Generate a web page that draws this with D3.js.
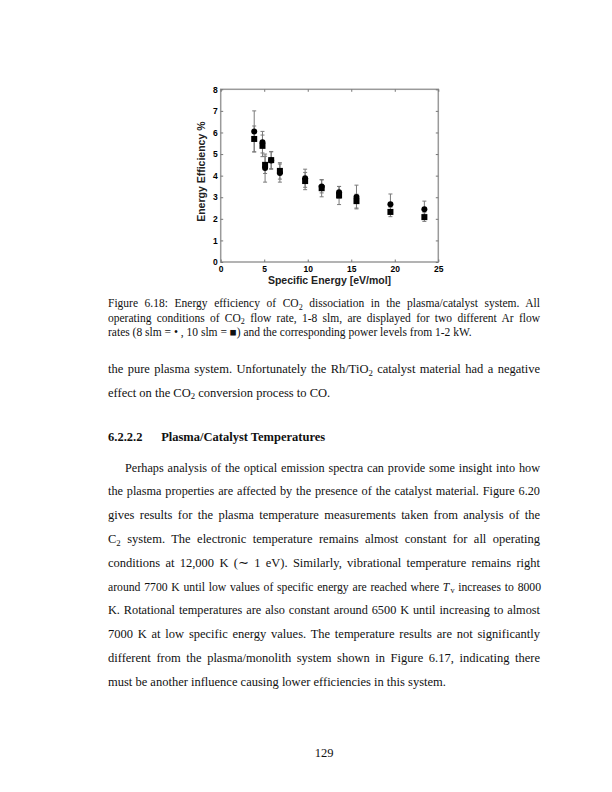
<!DOCTYPE html>
<html>
<head>
<meta charset="utf-8">
<script src="https://cdn.jsdelivr.net/npm/d3@7"></script>
<style>
  body { margin: 0; background: #fff; }
  svg { display: block; }
  .tick text { font-family: "Liberation Sans", Arial, sans-serif; font-weight: bold; font-size: 8.5px; fill: #000; }
  .page { font-family: "Liberation Serif", "Times New Roman", serif; fill: #111; }
</style>
</head>
<body>
<svg id="page" width="612" height="792"></svg>
<script>
// specific energy [eV/mol] for each operating condition
var specificEnergy = [3.85, 4.8, 5.1, 5.8, 6.8, 9.7, 11.6, 13.6, 15.6, 19.5, 23.4];
// 8 slm Ar (circles)
var eff8slm = [6.05, 5.55, 4.35, 4.7, 4.12, 3.88, 3.5, 3.23, 3.01, 2.68, 2.44];
var err8slm = [0.95, 0.5, 0.65, 0.4, 0.42, 0.42, 0.3, 0.27, 0.55, 0.47, 0.38];
// 10 slm Ar (squares)
var eff10slm = [5.7, 5.38, 4.5, 4.72, 4.22, 3.75, 3.42, 3.08, 2.82, 2.32, 2.08];
var err10slm = [0.6, 0.5, 0.4, 0.4, 0.38, 0.4, 0.4, 0.42, 0.32, 0.22, 0.2];
var xTicks = [0, 5, 10, 15, 20, 25];
var yTicks = [0, 1, 2, 3, 4, 5, 6, 7, 8];

var frameColor = "#9a9a9a";
var errColor = "#7a7a7a";

var svg = d3.select("#page");

var xScale = d3.scaleLinear().domain([0, 25]).range([220.7, 438.3]);
var yScale = d3.scaleLinear().domain([0, 8]).range([262, 89.3]);

var plot = svg.append("g");

// frame
plot.append("rect")
    .attr("x", xScale(0))
    .attr("y", yScale(8))
    .attr("width", xScale(25) - xScale(0))
    .attr("height", yScale(0) - yScale(8))
    .attr("fill", "none")
    .attr("stroke", frameColor)
    .attr("stroke-width", 1.5);

// axes, ticks pointing inward on all four sides
function styleAxis(g) {
    g.select(".domain").remove();
    g.selectAll(".tick line").attr("stroke", "#777").attr("stroke-width", 1);
}
plot.append("g")
    .attr("transform", `translate(0,${yScale(0)})`)
    .call(d3.axisBottom(xScale).tickValues(xTicks).tickSizeInner(-2.5).tickSizeOuter(0).tickPadding(3.5))
    .call(styleAxis);
plot.append("g")
    .attr("transform", `translate(0,${yScale(8)})`)
    .call(d3.axisTop(xScale).tickValues(xTicks).tickSizeInner(-2.5).tickSizeOuter(0).tickFormat(""))
    .call(styleAxis);
plot.append("g")
    .attr("transform", `translate(${xScale(0)},0)`)
    .call(d3.axisLeft(yScale).tickValues(yTicks).tickSizeInner(-2.5).tickSizeOuter(0).tickPadding(3))
    .call(styleAxis);
plot.append("g")
    .attr("transform", `translate(${xScale(25)},0)`)
    .call(d3.axisRight(yScale).tickValues(yTicks).tickSizeInner(-2.5).tickSizeOuter(0).tickFormat(""))
    .call(styleAxis);

// axis titles
plot.append("text")
    .attr("x", (xScale(0) + xScale(25)) / 2)
    .attr("y", 284)
    .attr("text-anchor", "middle")
    .attr("font-family", "Liberation Sans, Arial, sans-serif")
    .attr("font-weight", "bold")
    .attr("font-size", 10.5)
    .attr("fill", "#222")
    .text("Specific Energy [eV/mol]");
plot.append("text")
    .attr("transform", `translate(205,${(yScale(0) + yScale(8)) / 2 - 4}) rotate(-90)`)
    .attr("text-anchor", "middle")
    .attr("font-family", "Liberation Sans, Arial, sans-serif")
    .attr("font-weight", "bold")
    .attr("font-size", 10.5)
    .attr("fill", "#222")
    .text("Energy Efficiency %");

// error bars
function drawErrors(vals, errs) {
    var g = plot.append("g").attr("stroke", errColor).attr("stroke-width", 1);
    vals.forEach(function(v, i) {
        var cx = xScale(specificEnergy[i]);
        var top = yScale(v + errs[i]);
        var bot = yScale(v - errs[i]);
        g.append("line").attr("x1", cx).attr("x2", cx).attr("y1", top).attr("y2", bot);
        g.append("line").attr("x1", cx - 2).attr("x2", cx + 2).attr("y1", top).attr("y2", top);
        g.append("line").attr("x1", cx - 2).attr("x2", cx + 2).attr("y1", bot).attr("y2", bot);
    });
}
drawErrors(eff8slm, err8slm);
drawErrors(eff10slm, err10slm);

plot.selectAll(".c8")
    .data(eff8slm)
    .enter()
    .append("circle")
    .attr("class", "c8")
    .attr("cx", function(d, i) { return xScale(specificEnergy[i]); })
    .attr("cy", function(d) { return yScale(d); })
    .attr("r", 3)
    .attr("fill", "#000");

var sq = 6;
plot.selectAll(".s10")
    .data(eff10slm)
    .enter()
    .append("rect")
    .attr("class", "s10")
    .attr("x", function(d, i) { return xScale(specificEnergy[i]) - sq / 2; })
    .attr("y", function(d) { return yScale(d) - sq / 2; })
    .attr("width", sq)
    .attr("height", sq)
    .attr("fill", "#000");

// ---- page text ----
var left = 108, textW = 432;

// each line: array of [text, "sub"|"it"|null]; justify = widen the word gaps to fill the width
function line(parts, x, y, size, justify, width, bold) {
    var t = svg.append("text")
        .attr("class", "page")
        .attr("x", x)
        .attr("y", y)
        .attr("font-size", size)
        .attr("font-weight", bold ? "bold" : "normal");
    var shift = 0, prevIt = false;
    parts.forEach(function(p) {
        var s = t.append("tspan").text(p[0]);
        if (p[1] == "sub") {
            s.attr("font-size", size * 0.7).attr("dy", size * 0.22 - shift);
            if (prevIt) s.attr("dx", 1);
            shift = size * 0.22;
        } else {
            if (shift) { s.attr("dy", -shift); shift = 0; }
            if (p[1] == "it") s.attr("font-style", "italic");
        }
        prevIt = p[1] == "it";
    });
    if (justify) {
        var full = parts.map(function(p) { return p[0]; }).join("");
        var gaps = (full.match(/ /g) || []).length;
        var natural = t.node().getComputedTextLength();
        if (natural > width - gaps * 0.8) {
            // too long for the measure: use a slightly smaller size, then fill with word gaps
            var s2 = size * (width - gaps * 0.8) / natural;
            t.attr("font-size", s2);
            t.selectAll("tspan").each(function(d, i) {
                if (parts[i][1] == "sub") d3.select(this).attr("font-size", s2 * 0.7);
            });
            natural = t.node().getComputedTextLength();
        }
        if (gaps > 0) t.attr("word-spacing", (width - natural) / gaps);
    }
    return t;
}

var capSize = 11.5, capY = [307, 321.5, 336];
line([["Figure 6.18: Energy efficiency of CO"], ["2", "sub"], [" dissociation in the plasma/catalyst system. All"]], left, capY[0], capSize, true, textW);
line([["operating conditions of CO"], ["2", "sub"], [" flow rate, 1-8 slm, are displayed for two different Ar flow"]], left, capY[1], capSize, true, textW);
line([["rates (8 slm = \u2022 , 10 slm = \u25A0) and the corresponding power levels from 1-2 kW."]], left, capY[2], capSize, false);

var bodySize = 12.5;
line([["the pure plasma system. Unfortunately the Rh/TiO"], ["2", "sub"], [" catalyst material had a negative"]], left, 373, bodySize, true, textW);
line([["effect on the CO"], ["2", "sub"], [" conversion process to CO."]], left, 396.6, bodySize, false);

line([["6.2.2.2\u2003\u2002Plasma/Catalyst Temperatures"]], left, 441, bodySize, false, 0, true);

var paraY0 = 471.6, paraStep = 23.8;
var para = [
    [[["Perhaps analysis of the optical emission spectra can provide some insight into how"]], true, 125],
    [[["the plasma properties are affected by the presence of the catalyst material. Figure 6.20"]], true, left],
    [[["gives results for the plasma temperature measurements taken from analysis of the"]], true, left],
    [[["C"], ["2", "sub"], [" system. The electronic temperature remains almost constant for all operating"]], true, left],
    [[["conditions at 12,000 K (\u223C 1 eV). Similarly, vibrational temperature remains right"]], true, left],
    [[["around 7700 K until low values of specific energy are reached where "], ["T", "it"], ["v", "sub"], [" increases to 8000"]], true, left],
    [[["K. Rotational temperatures are also constant around 6500 K until increasing to almost"]], true, left],
    [[["7000 K at low specific energy values. The temperature results are not significantly"]], true, left],
    [[["different from the plasma/monolith system shown in Figure 6.17, indicating there"]], true, left],
    [[["must be another influence causing lower efficiencies in this system."]], false, left]
];
para.forEach(function(p, i) {
    line(p[0], p[2], paraY0 + i * paraStep, bodySize, p[1], left + textW - p[2]);
});

svg.append("text")
    .attr("class", "page")
    .attr("x", 324)
    .attr("y", 757)
    .attr("text-anchor", "middle")
    .attr("font-size", bodySize)
    .text("129");
</script>
</body>
</html>
